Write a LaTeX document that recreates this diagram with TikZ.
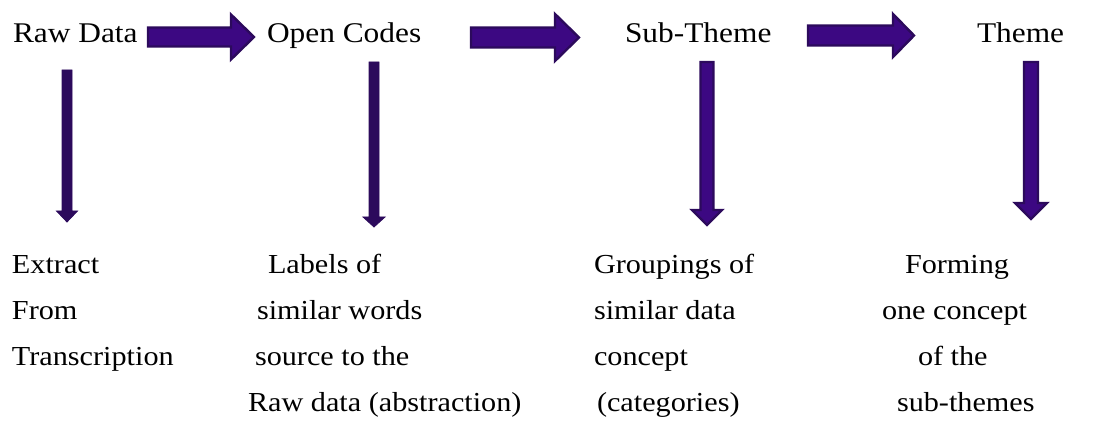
\documentclass[tikz,border=0pt]{standalone}
\usepackage{fontspec}
\setmainfont[FakeStretch=1.1]{Liberation Serif}
\usetikzlibrary{calc}
\definecolor{arrowfill}{RGB}{60,8,130}
\definecolor{arrowline}{RGB}{44,10,92}
\tikzset{
  lbl/.style={anchor=base west, inner sep=0pt, outer sep=0pt, font=\fontsize{20.6pt}{24pt}\selectfont},
  toplbl/.style={lbl, font=\fontsize{21.4pt}{25pt}\selectfont},
  fatarrow/.style={fill=arrowfill, draw=arrowline, line width=1.8pt, line join=miter},
  solidarrow/.style={fill=arrowline, draw=arrowline, line width=0.6pt, line join=miter}
}
% #1 style, #2 start, #3 tip, #4 half shaft, #5 half head, #6 head length
\newcommand\hblockarrow[6]{%
  \filldraw[#1] ($(#2)+(0,-#4)$) -- ($(#3)+(-#6,-#4)$) -- ($(#3)+(-#6,-#5)$) -- (#3)
    -- ($(#3)+(-#6,#5)$) -- ($(#3)+(-#6,#4)$) -- ($(#2)+(0,#4)$) -- cycle;}
\newcommand\vblockarrow[6]{%
  \filldraw[#1] ($(#2)+(-#4,0)$) -- ($(#3)+(-#4,-#6)$) -- ($(#3)+(-#5,-#6)$) -- (#3)
    -- ($(#3)+(#5,-#6)$) -- ($(#3)+(#4,-#6)$) -- ($(#2)+(#4,0)$) -- cycle;}
\begin{document}
\begin{tikzpicture}[x=0.75pt,y=-0.75pt]
\useasboundingbox (0,0) rectangle (1119,434);

% top labels
\node[toplbl] (raw) at (13,43) {Raw Data};
\node[toplbl] (open) at (267,43) {Open Codes};
\node[toplbl] (sub) at (625,43) {Sub-Theme};
\node[toplbl] (theme) at (977,43) {Theme};

% bottom texts
\node[lbl] (e1) at (12,273) {Extract};
\node[lbl] (e2) at (12,319) {From};
\node[lbl] (e3) at (12,365) {Transcription};

\node[lbl] (l1) at (268,273) {Labels of};
\node[lbl] (l2) at (257,319) {similar words};
\node[lbl] (l3) at (255,365) {source to the};
\node[lbl] (l4) at (248,411) {Raw data (abstraction)};

\node[lbl] (g1) at (594,273) {Groupings of};
\node[lbl] (g2) at (594,319) {similar data};
\node[lbl] (g3) at (594,365) {concept};
\node[lbl] (g4) at (597,411) {(categories)};

\node[lbl] (f1) at (905,273) {Forming};
\node[lbl] (f2) at (882,319) {one concept};
\node[lbl] (f3) at (918,365) {of the};
\node[lbl] (f4) at (897,411) {sub-themes};

% connector end points
\coordinate (h1s) at (148,37);  \coordinate (h1e) at (254,37);
\coordinate (h2s) at (471,37.5);\coordinate (h2e) at (579,37.5);
\coordinate (h3s) at (808,35.5);\coordinate (h3e) at (914,35.5);

\coordinate (v1s) at (67,70);   \coordinate (v1e) at (67,222);
\coordinate (v2s) at (374,62);  \coordinate (v2e) at (374,227);
\coordinate (v3s) at (707,62);  \coordinate (v3e) at (707,225);
\coordinate (v4s) at (1031,62); \coordinate (v4e) at (1031,219);

% horizontal block arrows
\hblockarrow{fatarrow}{h1s}{h1e}{9.5}{22.5}{23}
\hblockarrow{fatarrow}{h2s}{h2e}{10}{23.5}{24}
\hblockarrow{fatarrow}{h3s}{h3e}{10}{21.5}{21}

% vertical arrows
\vblockarrow{solidarrow}{v1s}{v1e}{5}{10.5}{11}
\vblockarrow{solidarrow}{v2s}{v2e}{5}{11}{10}
\vblockarrow{fatarrow}{v3s}{v3e}{6.5}{15}{15}
\vblockarrow{fatarrow}{v4s}{v4e}{7}{16}{16}
\end{tikzpicture}
\end{document}
